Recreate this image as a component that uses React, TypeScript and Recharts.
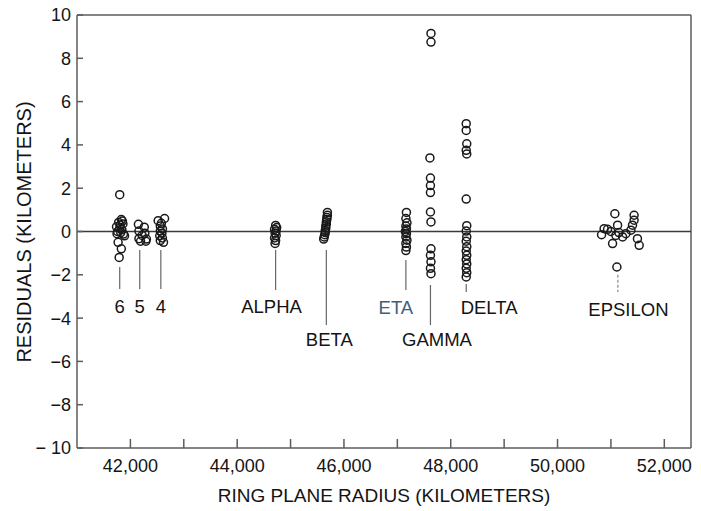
import { ScatterChart, Scatter, XAxis, YAxis, ReferenceLine, Label } from 'recharts'

// residuals measured for each ring, [ring plane radius km, residual km]
const ring6 = [
  [41800, 1.7], [41830, 0.55], [41850, 0.48], [41780, 0.42], [41860, 0.35], [41810, 0.3],
  [41740, 0.22], [41800, 0.15], [41840, 0.08], [41760, 0.0], [41820, -0.05], [41870, -0.12],
  [41750, -0.1], [41890, -0.2], [41770, -0.5], [41830, -0.8], [41790, -1.2],
]
const ring5 = [
  [42150, 0.33], [42260, 0.2], [42160, 0.02], [42270, -0.08], [42220, -0.18],
  [42160, -0.33], [42300, -0.35], [42190, -0.45], [42290, -0.45],
]
const ring4 = [
  [42520, 0.5], [42640, 0.6], [42580, 0.38], [42560, 0.25], [42600, 0.12], [42560, 0.02],
  [42590, -0.08], [42550, -0.2], [42600, -0.3], [42560, -0.42], [42620, -0.5],
]
const alpha = [
  [44720, 0.28], [44740, 0.18], [44700, 0.1], [44730, 0.02], [44710, -0.08],
  [44730, -0.18], [44700, -0.3], [44720, -0.42], [44710, -0.55],
]
const beta = [
  [45690, 0.88], [45690, 0.75], [45680, 0.65], [45680, 0.55], [45670, 0.45], [45670, 0.35],
  [45660, 0.25], [45660, 0.15], [45650, 0.05], [45650, -0.05], [45640, -0.15], [45630, -0.25],
  [45620, -0.35],
]
const eta = [
  [47170, 0.88], [47160, 0.6], [47180, 0.4], [47160, 0.25], [47170, 0.12], [47150, 0.0],
  [47170, -0.1], [47160, -0.25], [47180, -0.4], [47160, -0.55], [47170, -0.72], [47160, -0.88],
]
const gamma = [
  [47630, 9.15], [47630, 8.75], [47610, 3.4], [47620, 2.47], [47620, 2.12], [47620, 1.8],
  [47620, 0.9], [47630, 0.44], [47630, -0.8], [47620, -1.1], [47630, -1.4], [47620, -1.7],
  [47630, -1.95],
]
const delta = [
  [48290, 4.98], [48290, 4.67], [48300, 4.05], [48290, 3.75], [48300, 3.58], [48290, 1.5],
  [48300, 0.27], [48290, 0.02], [48300, -0.25], [48290, -0.45], [48300, -0.7], [48290, -0.9],
  [48300, -1.1], [48290, -1.3], [48300, -1.5], [48290, -1.7], [48300, -1.9], [48290, -2.1],
]
const epsilon = [
  [50825, -0.15], [50873, 0.13], [50937, 0.1], [50999, 0.0], [51031, -0.56], [51074, 0.82],
  [51093, -0.18], [51125, 0.29], [51150, -0.05], [51219, -0.25], [51112, -1.64], [51280, -0.1],
  [51375, 0.06], [51404, 0.29], [51434, 0.75], [51434, 0.52], [51497, -0.33], [51530, -0.64],
]

const rings = [ring6, ring5, ring4, alpha, beta, eta, gamma, delta, epsilon]

const xTicks = [42000, 43000, 44000, 45000, 46000, 47000, 48000, 49000, 50000, 51000, 52000]
const yTicks = [-10, -8, -6, -4, -2, 0, 2, 4, 6, 8, 10]

// ring names and their leader lines
const ringLabels = [
  { x: 41800, y: -3.44, text: '6' },
  { x: 42175, y: -3.44, text: '5' },
  { x: 42570, y: -3.44, text: '4' },
  { x: 44644, y: -3.44, text: 'ALPHA' },
  { x: 45726, y: -5.0, text: 'BETA' },
  { x: 46972, y: -3.5, text: 'ETA' },
  { x: 47742, y: -5.0, text: 'GAMMA' },
  { x: 48718, y: -3.52, text: 'DELTA' },
  { x: 51328, y: -3.58, text: 'EPSILON' },
]
const leaders = [
  { x: 41800, from: -1.64, to: -2.66 },
  { x: 42175, from: -0.85, to: -2.66 },
  { x: 42570, from: -0.85, to: -2.66 },
  { x: 44720, from: -0.85, to: -2.7 },
  { x: 45670, from: -0.85, to: -4.32 },
  { x: 47160, from: -1.32, to: -2.7 },
  { x: 47620, from: -2.47, to: -4.32 },
  { x: 48290, from: -2.42, to: -2.8 },
  { x: 51130, from: -2.0, to: -2.8, dashed: true },
]

const FONT = '"Liberation Sans", Arial, Helvetica, sans-serif'
const INK = '#141414'
const FRAME = '#5c5c5c'

function Ring(props: any) {
  return <circle cx={props.cx} cy={props.cy} r={4} fill="none" stroke="#1a1a1a" strokeWidth={1.5} />
}

function RingName(props: any) {
  const t = props.payload.text
  return (
    <text
      x={props.cx}
      y={props.cy}
      dy="0.36em"
      textAnchor="middle"
      fontFamily={FONT}
      fontSize={18.5}
      fill={t === 'ETA' ? '#40607a' : INK}
    >
      {t}
    </text>
  )
}

function XTick({ x, y, payload }: any) {
  const v = payload.value
  return (
    <g>
      <line x1={x} x2={x} y1={y} y2={y - 9} stroke={FRAME} strokeWidth={1.5} />
      {v % 2000 === 0 && (
        <text x={x} y={y + 24} textAnchor="middle" fontFamily={FONT} fontSize={18} fill={INK}>
          {v.toLocaleString('en-US')}
        </text>
      )}
    </g>
  )
}

function YTick({ x, y, payload }: any) {
  const v = payload.value
  const s = v === -10 ? '\u2212 10' : v < 0 ? `\u2212${-v}` : `${v}`
  return (
    <g>
      <line x1={x} x2={x + 6} y1={y} y2={y} stroke={FRAME} strokeWidth={1.5} />
      <text x={x - 6} y={y} dy="0.36em" textAnchor="end" fontFamily={FONT} fontSize={18} fill={INK}>
        {s}
      </text>
    </g>
  )
}

function YTitle() {
  return (
    <text
      x={24}
      y={232}
      transform="rotate(-90 24 232)"
      textAnchor="middle"
      dy="0.36em"
      fontFamily={FONT}
      fontSize={20}
      fill={INK}
    >
      RESIDUALS (KILOMETERS)
    </text>
  )
}

export default function App() {
  return (
    <div style={{ width: 701, height: 511, background: '#fff' }}>
      <style>{'body{margin:0}'}</style>
      <ScatterChart width={701} height={511} margin={{ top: 15, right: 10, bottom: 0, left: 0 }}>
        <XAxis
          type="number"
          dataKey="x"
          domain={[41000, 52500]}
          ticks={xTicks}
          interval={0}
          height={63}
          tickSize={0}
          tickMargin={0}
          tickLine={false}
          axisLine={{ stroke: FRAME, strokeWidth: 1.5 }}
          tick={<XTick />}
        >
          <Label
            value="RING PLANE RADIUS (KILOMETERS)"
            position="insideBottom"
            offset={9}
            fontFamily={FONT}
            fontSize={19}
            fill={INK}
          />
        </XAxis>
        <YAxis
          type="number"
          dataKey="y"
          domain={[-10, 10]}
          ticks={yTicks}
          interval={0}
          width={77}
          tickSize={0}
          tickMargin={0}
          tickLine={false}
          axisLine={{ stroke: FRAME, strokeWidth: 1.5 }}
          tick={<YTick />}
        >
          <Label content={<YTitle />} />
        </YAxis>
        <ReferenceLine y={10} stroke={FRAME} strokeWidth={1.5} />
        <ReferenceLine x={52500} stroke={FRAME} strokeWidth={1.5} />
        <ReferenceLine y={0} stroke="#3a3a3a" strokeWidth={1.5} />
        {leaders.map((l, i) => (
          <ReferenceLine
            key={`lead-${i}`}
            segment={[{ x: l.x, y: l.from }, { x: l.x, y: l.to }]}
            stroke={l.dashed ? '#888' : '#666'}
            strokeWidth={1.2}
            strokeDasharray={l.dashed ? '3 2' : undefined}
          />
        ))}
        {rings.map((r, i) => (
          <Scatter
            key={`ring-${i}`}
            data={r.map(([x, y]) => ({ x, y }))}
            shape={<Ring />}
            isAnimationActive={false}
          />
        ))}
        <Scatter data={ringLabels} shape={<RingName />} isAnimationActive={false} />
      </ScatterChart>
    </div>
  )
}
